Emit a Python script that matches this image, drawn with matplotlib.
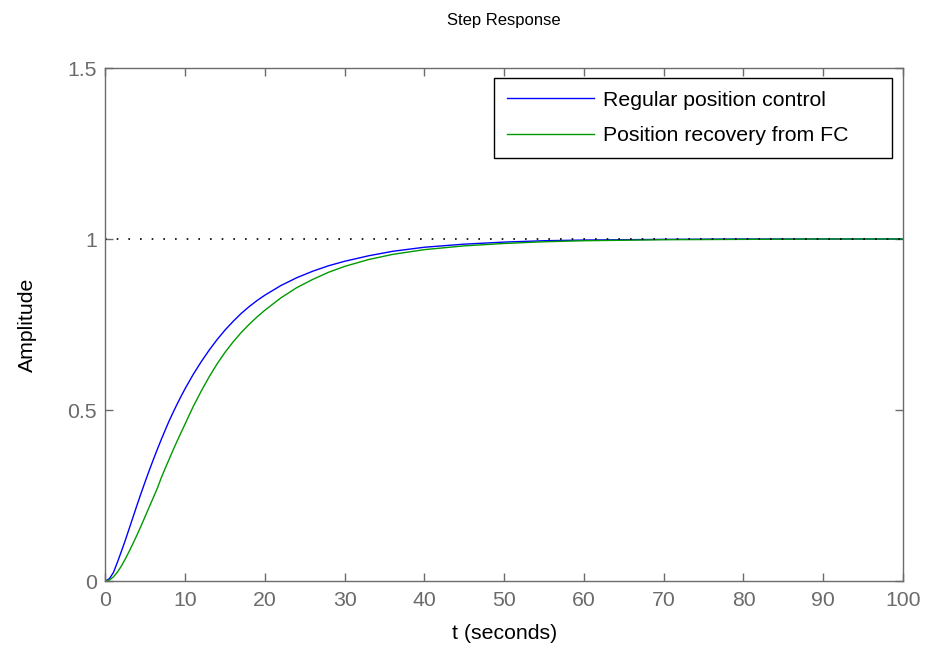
import matplotlib
matplotlib.use('Agg')
import matplotlib.pyplot as plt
import numpy as np

plt.rcParams['font.family'] = ['Liberation Sans', 'DejaVu Sans']

# values
t = np.array([0, 0.5, 1, 1.5, 2, 2.5, 3, 3.5, 4, 4.5, 5, 5.5, 6, 6.5, 7, 7.5,
              8, 8.5, 9, 9.5, 10, 11, 12, 13, 14, 15, 16, 17, 18, 19, 20,
              22, 24, 26, 28, 30, 33, 36, 40, 45, 50, 55, 60, 70, 80, 90, 100])
regular = np.array([0, 0.007, 0.025, 0.055, 0.087, 0.12, 0.155, 0.19, 0.225,
                    0.259, 0.292, 0.324, 0.355, 0.385, 0.414, 0.442, 0.469,
                    0.494, 0.518, 0.541, 0.563, 0.604, 0.641, 0.675, 0.706,
                    0.734, 0.759, 0.782, 0.802, 0.82, 0.836, 0.864, 0.887,
                    0.906, 0.922, 0.935, 0.951, 0.964, 0.976, 0.985, 0.991,
                    0.995, 0.997, 0.999, 1.0, 1.0, 1.0])
recovery = np.array([0, 0.003, 0.012, 0.026, 0.044, 0.065, 0.088, 0.112,
                     0.137, 0.163, 0.19, 0.217, 0.244, 0.271, 0.302, 0.33,
                     0.357, 0.384, 0.41, 0.435, 0.46, 0.51, 0.555, 0.597,
                     0.635, 0.669, 0.699, 0.726, 0.75, 0.772, 0.792, 0.828,
                     0.858, 0.882, 0.903, 0.92, 0.94, 0.955, 0.969, 0.98,
                     0.987, 0.992, 0.995, 0.998, 0.999, 1.0, 1.0])
labels = ['Regular position control', 'Position recovery from FC']
xticks = np.arange(0, 101, 10)
yticks = [0, 0.5, 1, 1.5]

fig = plt.figure(figsize=(9.26, 6.46), dpi=100)
ax = fig.add_axes([0.1139, 0.1006, 0.8612, 0.7941])

ax.plot(t, regular, color='#0000ff', linewidth=1.0, label=labels[0])
ax.plot(t, recovery, color='#009900', linewidth=1.0, label=labels[1])
# steady-state reference line
ax.plot([0, 100], [1, 1], color='black', linestyle=(0, (1, 6)), linewidth=1.2)

ax.set_xlim(0, 100)
ax.set_ylim(0, 1.5)
ax.set_xticks(xticks)
ax.set_yticks(yticks)
ax.set_yticklabels(['0', '0.5', '1', '1.5'])

grey = '#6b6b6b'
for sp in ax.spines.values():
    sp.set_color(grey)
    sp.set_linewidth(1.0)
ax.tick_params(direction='in', length=5.8, width=1.0, color=grey,
               labelcolor=grey, labelsize=15.3, top=True, right=True)
ax.tick_params(axis='x', pad=7)
ax.tick_params(axis='y', pad=6)

ax.set_xlabel('t (seconds)', fontsize=15.3, labelpad=10)
ax.set_ylabel('Amplitude', fontsize=15.3, labelpad=22)
ax.set_title('Step Response', fontsize=12, pad=31)

leg = ax.legend(loc='upper left', bbox_to_anchor=(0.4871, 0.0, 0.4991, 0.9805),
                mode='expand', borderaxespad=0, fontsize=15.3, fancybox=False,
                framealpha=1, edgecolor='black', handlelength=4.1,
                handletextpad=0.45, borderpad=0.6, labelspacing=0.78)
leg.get_frame().set_linewidth(1.0)

fig.savefig('out.png', dpi=100)
